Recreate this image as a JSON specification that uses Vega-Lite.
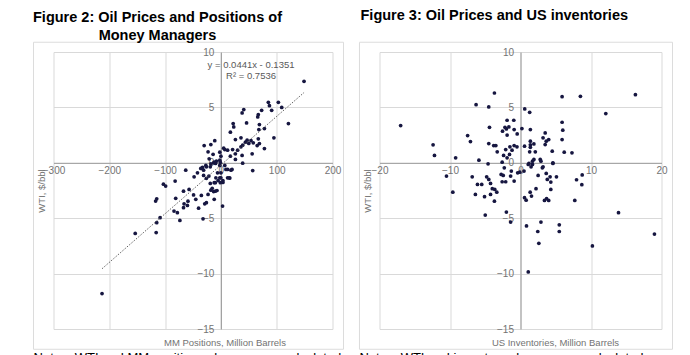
{
  "$schema": "https://vega.github.io/schema/vega-lite/v6.json",
  "autosize": {"type": "pad"},
  "padding": {"left": 32.5, "top": 8, "right": 5, "bottom": 5},
  "background": "white",
  "bounds": "flush",
  "spacing": 47,
  "config": {
    "view": {"stroke": null},
    "font": "Liberation Sans",
    "axis": {
      "grid": true, "gridColor": "#d9d9d9", "gridWidth": 1,
      "domainColor": "#9a9a9a", "domainWidth": 1,
      "ticks": false, "tickSize": 0,
      "labelColor": "#737373", "labelFont": "Liberation Sans", "labelFontSize": 10,
      "titleColor": "#737373", "titleFont": "Liberation Sans", "titleFontSize": 9.5, "titleFontWeight": "normal",
      "labelOverlap": false, "labelFlush": false, "labelBound": false
    }
  },
  "datasets": {
    "mm": [
      {"mm":149,"wti":7.35},{"mm":103,"wti":5.46},{"mm":85,"wti":5.46},{"mm":87,"wti":5.16},{"mm":109,"wti":5.0},{"mm":73,"wti":4.74},{"mm":67,"wti":4.35},{"mm":66,"wti":4.14},{"mm":91,"wti":4.74},{"mm":41,"wti":4.8},{"mm":38,"wti":4.5},{"mm":46,"wti":3.6},{"mm":121,"wti":3.54},{"mm":22,"wti":3.54},{"mm":23,"wti":3.24},{"mm":69,"wti":3.45},{"mm":68,"wti":3.0},{"mm":78,"wti":3.09},{"mm":17,"wti":2.76},{"mm":95,"wti":2.25},{"mm":36,"wti":2.25},{"mm":47,"wti":2.04},{"mm":26,"wti":2.1},{"mm":54,"wti":2.0},{"mm":67,"wti":2.16},{"mm":58,"wti":1.8},{"mm":44,"wti":1.86},{"mm":69,"wti":1.74},{"mm":78,"wti":1.29},{"mm":39,"wti":1.59},{"mm":65,"wti":1.56},{"mm":-11,"wti":2.0},{"mm":-18,"wti":1.65},{"mm":-30,"wti":1.56},{"mm":-23,"wti":0.99},{"mm":-14,"wti":0.77},{"mm":5,"wti":1.32},{"mm":7,"wti":1.2},{"mm":12,"wti":1.14},{"mm":21,"wti":1.2},{"mm":30,"wti":1.14},{"mm":36,"wti":1.44},{"mm":26,"wti":0.81},{"mm":38,"wti":0.66},{"mm":17,"wti":0.6},{"mm":56,"wti":0.81},{"mm":-2,"wti":0.96},{"mm":0,"wti":0.6},{"mm":-2,"wti":0.24},{"mm":-1,"wti":0.03},{"mm":26,"wti":0.3},{"mm":39,"wti":-0.03},{"mm":50,"wti":1.75},{"mm":-21,"wti":0.36},{"mm":-13,"wti":0.0},{"mm":-9.5,"wti":-0.06},{"mm":-33,"wti":-0.42},{"mm":-27,"wti":-0.24},{"mm":-63,"wti":-0.67},{"mm":-31,"wti":-0.67},{"mm":-26,"wti":-0.36},{"mm":-18,"wti":-0.1},{"mm":-2,"wti":-0.24},{"mm":7,"wti":-0.24},{"mm":18,"wti":-0.67},{"mm":57,"wti":-0.7},{"mm":-12,"wti":0.06},{"mm":-8,"wti":0.15},{"mm":-36,"wti":-0.51},{"mm":-19,"wti":-0.36},{"mm":20,"wti":-0.6},{"mm":12,"wti":-0.6},{"mm":15,"wti":-1.35},{"mm":3.6,"wti":-1.6},{"mm":0,"wti":-0.9},{"mm":-213,"wti":-11.8},{"mm":-153.5,"wti":-6.37},{"mm":-116,"wti":-6.3},{"mm":-115,"wti":-5.4},{"mm":-109,"wti":-4.95},{"mm":-117,"wti":-3.45},{"mm":-115,"wti":-3.25},{"mm":-103,"wti":-1.93},{"mm":-99,"wti":-2.1},{"mm":-82,"wti":-1.65},{"mm":-81,"wti":-3.2},{"mm":-84,"wti":-4.36},{"mm":-78,"wti":-4.5},{"mm":-73.5,"wti":-5.2},{"mm":-67,"wti":-2.56},{"mm":-66,"wti":-3.7},{"mm":-67,"wti":-4.05},{"mm":-57,"wti":-2.4},{"mm":-59,"wti":-3.46},{"mm":-60,"wti":-3.85},{"mm":-48,"wti":-1.26},{"mm":-49,"wti":-2.9},{"mm":-45,"wti":-3.3},{"mm":-40,"wti":-4.1},{"mm":-42,"wti":-0.9},{"mm":-32,"wti":-5.05},{"mm":-35,"wti":-2.95},{"mm":-29,"wti":-3.7},{"mm":-26,"wti":-3.6},{"mm":-31,"wti":-1.14},{"mm":-26,"wti":-1.4},{"mm":-21.5,"wti":-1.2},{"mm":-19,"wti":-1.86},{"mm":-23,"wti":-2.86},{"mm":-18,"wti":-2.47},{"mm":-15.6,"wti":-2.3},{"mm":-12,"wti":-1.8},{"mm":-10,"wti":-1.8},{"mm":-13,"wti":-2.6},{"mm":-10,"wti":-2.56},{"mm":-12,"wti":-3.3},{"mm":-6,"wti":-0.9},{"mm":-9,"wti":-1.35},{"mm":3,"wti":-3.9},{"mm":-2,"wti":-1.35},{"mm":0,"wti":-1.35},{"mm":3.6,"wti":-1.77},{"mm":-1,"wti":-1.8},{"mm":12,"wti":-1.35},{"mm":16,"wti":-1.38},{"mm":9,"wti":-0.6},{"mm":-7,"wti":-2.5},{"mm":-5,"wti":-1.6}
    ],
    "inv": [
      {"inv":-17,"wti":3.36},{"inv":-12.4,"wti":1.62},{"inv":-12.2,"wti":0.66},{"inv":-9.2,"wti":0.45},{"inv":-7.5,"wti":2.46},{"inv":-7.1,"wti":1.92},{"inv":-6.3,"wti":5.25},{"inv":-5.9,"wti":0.24},{"inv":-4.5,"wti":5.04},{"inv":-4.4,"wti":3.2},{"inv":-4.5,"wti":1.74},{"inv":-4.6,"wti":-0.09},{"inv":-3.7,"wti":6.3},{"inv":-3.8,"wti":1.56},{"inv":-3.5,"wti":1.56},{"inv":-3.3,"wti":0.99},{"inv":-2.55,"wti":2.85},{"inv":-2.2,"wti":3.2},{"inv":-2.1,"wti":1.2},{"inv":-1.9,"wti":3.84},{"inv":-2.0,"wti":3.06},{"inv":-1.9,"wti":2.5},{"inv":-1.65,"wti":3.24},{"inv":-1.5,"wti":1.44},{"inv":-1.2,"wti":1.14},{"inv":-0.95,"wti":3.84},{"inv":-0.9,"wti":3.0},{"inv":-0.47,"wti":2.6},{"inv":-0.9,"wti":1.56},{"inv":-0.5,"wti":1.44},{"inv":-2.4,"wti":0.66},{"inv":-2.6,"wti":0.06},{"inv":-1.9,"wti":0.45},{"inv":-1.56,"wti":0.75},{"inv":0.2,"wti":3.09},{"inv":0.6,"wti":4.86},{"inv":1.3,"wti":4.56},{"inv":0.57,"wti":1.5},{"inv":1.4,"wti":3.0},{"inv":1.4,"wti":1.95},{"inv":1.4,"wti":1.62},{"inv":1.4,"wti":1.4},{"inv":1.9,"wti":1.7},{"inv":1.3,"wti":0.99},{"inv":2.1,"wti":0.99},{"inv":1.7,"wti":0.15},{"inv":1.2,"wti":-0.06},{"inv":2.9,"wti":0.15},{"inv":3.2,"wti":2.25},{"inv":3.5,"wti":2.7},{"inv":3.65,"wti":1.95},{"inv":4.0,"wti":2.1},{"inv":3.5,"wti":1.65},{"inv":4.5,"wti":1.05},{"inv":4.6,"wti":-0.06},{"inv":5.9,"wti":5.97},{"inv":5.9,"wti":3.66},{"inv":6.0,"wti":2.94},{"inv":5.9,"wti":2.1},{"inv":6.2,"wti":0.96},{"inv":7.3,"wti":0.9},{"inv":8.5,"wti":6.0},{"inv":12.1,"wti":4.44},{"inv":16.3,"wti":6.15},
      {"inv":-10.5,"wti":-1.2},{"inv":-9.6,"wti":-2.65},{"inv":-6.85,"wti":-1.26},{"inv":-6.4,"wti":-2.86},{"inv":-6.1,"wti":-1.95},{"inv":-5.5,"wti":-1.95},{"inv":-5.1,"wti":-3.06},{"inv":-5.0,"wti":-4.72},{"inv":-4.8,"wti":-1.26},{"inv":-4.5,"wti":-1.5},{"inv":-4.25,"wti":-1.86},{"inv":-4.25,"wti":-2.86},{"inv":-4.0,"wti":-2.34},{"inv":-3.65,"wti":-2.4},{"inv":-3.7,"wti":-3.46},{"inv":-3.36,"wti":-2.65},{"inv":-2.74,"wti":-1.05},{"inv":-2.45,"wti":-1.14},{"inv":-2.6,"wti":-1.71},{"inv":-2.1,"wti":-1.71},{"inv":-2.0,"wti":-4.45},{"inv":-1.4,"wti":-5.35},{"inv":-1.4,"wti":-1.2},{"inv":-1.3,"wti":-0.75},{"inv":-0.9,"wti":-1.65},{"inv":-0.4,"wti":-0.9},{"inv":0.5,"wti":-0.75},{"inv":0.57,"wti":-3.15},{"inv":0.8,"wti":-3.37},{"inv":0.85,"wti":-5.7},{"inv":1.1,"wti":-9.85},{"inv":1.37,"wti":-2.65},{"inv":1.56,"wti":-3.0},{"inv":2.2,"wti":-2.34},{"inv":2.5,"wti":-1.14},{"inv":2.45,"wti":-6.2},{"inv":2.6,"wti":-7.27},{"inv":2.9,"wti":-5.35},{"inv":3.4,"wti":-3.4},{"inv":3.65,"wti":-0.96},{"inv":3.7,"wti":-3.24},{"inv":3.8,"wti":-1.5},{"inv":4.0,"wti":-3.4},{"inv":4.2,"wti":-1.26},{"inv":4.3,"wti":-1.74},{"inv":4.3,"wti":-2.4},{"inv":5.1,"wti":-1.26},{"inv":5.5,"wti":-5.6},{"inv":5.5,"wti":-6.2},{"inv":7.7,"wti":-3.4},{"inv":7.95,"wti":-1.53},{"inv":8.75,"wti":-1.1},{"inv":8.7,"wti":-1.98},{"inv":10.2,"wti":-7.5},{"inv":13.9,"wti":-4.5},{"inv":19.0,"wti":-6.43},
      {"inv":-2.3,"wti":-0.45},{"inv":1.5,"wti":-0.36},{"inv":1.7,"wti":-0.15},{"inv":3.1,"wti":-0.45},{"inv":-0.1,"wti":-0.85},{"inv":1.1,"wti":-0.15},{"inv":1.9,"wti":0.3},{"inv":2.8,"wti":0.3},{"inv":3.2,"wti":-0.36},{"inv":4.6,"wti":0.0}
    ],
    "eq": [
      {"mm": 54, "wti": 8.86, "label": "y = 0.0441x - 0.1351"},
      {"mm": 54, "wti": 7.86, "label": "R² = 0.7536"}
    ],
    "notesL": [{"note": "Notes: WTI and MM positions changes are calculated"}],
    "notesR": [{"note": "Notes: WTI and inventory changes are calculated"}]
  },
  "hconcat": [
    {
      "width": 279,
      "height": 277,
      "title": {
        "text": ["Figure 2: Oil Prices and Positions of", "Money Managers"],
        "anchor": "start", "frame": "group", "align": "center", "dx": 104,
        "baseline": "bottom", "offset": -16,
        "font": "Liberation Sans", "fontSize": 14.5, "fontWeight": "bold", "color": "#000000", "lineHeight": 18.5
      },
      "layer": [
        {
          "data": {"name": "notesL"},
          "mark": {"type": "rect", "fillOpacity": 0, "stroke": "#dcdcdc", "strokeWidth": 1},
          "encoding": {
            "x": {"datum": -335.8, "type": "quantitative"},
            "x2": {"datum": 219.7},
            "y": {"datum": 10.88, "type": "quantitative"},
            "y2": {"datum": -16.83}
          }
        },
        {
          "data": {"name": "mm"},
          "mark": {"type": "circle", "size": 14, "color": "#161640", "opacity": 1},
          "encoding": {
            "x": {"field": "mm", "type": "quantitative",
              "scale": {"domain": [-300, 200], "nice": false, "zero": false},
              "axis": {"title": "MM Positions, Million Barrels", "values": [-300, -200, -100, 0, 100, 200],
                "offset": -166.2, "labelPadding": 3, "titleX": 171, "titleY": 179.2, "titleBaseline": "middle", "titleAlign": "center"}},
            "y": {"field": "wti", "type": "quantitative",
              "scale": {"domain": [-15, 10], "nice": false, "zero": false},
              "axis": {"title": "WTI, $/bbl", "values": [-15, -10, -5, 0, 5, 10],
                "offset": -167.4, "labelPadding": 7, "titleX": -179.9, "titleY": 138.5, "titleBaseline": "middle", "titleAlign": "center", "titleAngle": -90}}
          }
        },
        {
          "data": {"name": "mm"},
          "transform": [{"regression": "wti", "on": "mm"}],
          "mark": {"type": "line", "color": "#505050", "strokeWidth": 0.9, "strokeDash": [1.5, 1.5]},
          "encoding": {
            "x": {"field": "mm", "type": "quantitative"},
            "y": {"field": "wti", "type": "quantitative"}
          }
        },
        {
          "data": {"name": "eq"},
          "mark": {"type": "text", "align": "center", "baseline": "middle", "fontSize": 9.5, "color": "#595959", "font": "Liberation Sans"},
          "encoding": {
            "x": {"field": "mm", "type": "quantitative"},
            "y": {"field": "wti", "type": "quantitative"},
            "text": {"field": "label"}
          }
        },
        {
          "data": {"name": "notesL"},
          "mark": {"type": "text", "align": "left", "baseline": "top", "fontSize": 13, "color": "#000000", "font": "Liberation Sans"},
          "encoding": {
            "x": {"datum": -335.8, "type": "quantitative"},
            "y": {"datum": -17.1, "type": "quantitative"},
            "text": {"field": "note"}
          }
        }
      ]
    },
    {
      "width": 282,
      "height": 277,
      "title": {
        "text": "Figure 3: Oil Prices and US inventories",
        "anchor": "start", "frame": "group", "align": "left", "dx": -19,
        "baseline": "bottom", "offset": 4.2,
        "font": "Liberation Sans", "fontSize": 14.5, "fontWeight": "bold", "color": "#000000"
      },
      "layer": [
        {
          "data": {"name": "notesR"},
          "mark": {"type": "rect", "fillOpacity": 0, "stroke": "#dcdcdc", "strokeWidth": 1},
          "encoding": {
            "x": {"datum": -22.84, "type": "quantitative"},
            "x2": {"datum": 21.56},
            "y": {"datum": 10.88, "type": "quantitative"},
            "y2": {"datum": -16.83}
          }
        },
        {
          "data": {"name": "inv"},
          "mark": {"type": "circle", "size": 14, "color": "#161640", "opacity": 1},
          "encoding": {
            "x": {"field": "inv", "type": "quantitative",
              "scale": {"domain": [-20, 20], "nice": false, "zero": false},
              "axis": {"title": "US Inventories, Million Barrels", "values": [-20, -10, 0, 10, 20],
                "offset": -166.2, "labelPadding": 3, "titleX": 175.5, "titleY": 179.2, "titleBaseline": "middle", "titleAlign": "center"}},
            "y": {"field": "wti", "type": "quantitative",
              "scale": {"domain": [-15, 10], "nice": false, "zero": false},
              "axis": {"title": "WTI, $/bbl", "values": [-15, -10, -5, 0, 5, 10],
                "offset": -141, "labelPadding": 7, "titleX": -153.5, "titleY": 138.5, "titleBaseline": "middle", "titleAlign": "center", "titleAngle": -90}}
          }
        },
        {
          "data": {"name": "notesR"},
          "mark": {"type": "text", "align": "left", "baseline": "top", "fontSize": 13, "color": "#000000", "font": "Liberation Sans"},
          "encoding": {
            "x": {"datum": -22.84, "type": "quantitative"},
            "y": {"datum": -17.1, "type": "quantitative"},
            "text": {"field": "note"}
          }
        }
      ]
    }
  ]
}
